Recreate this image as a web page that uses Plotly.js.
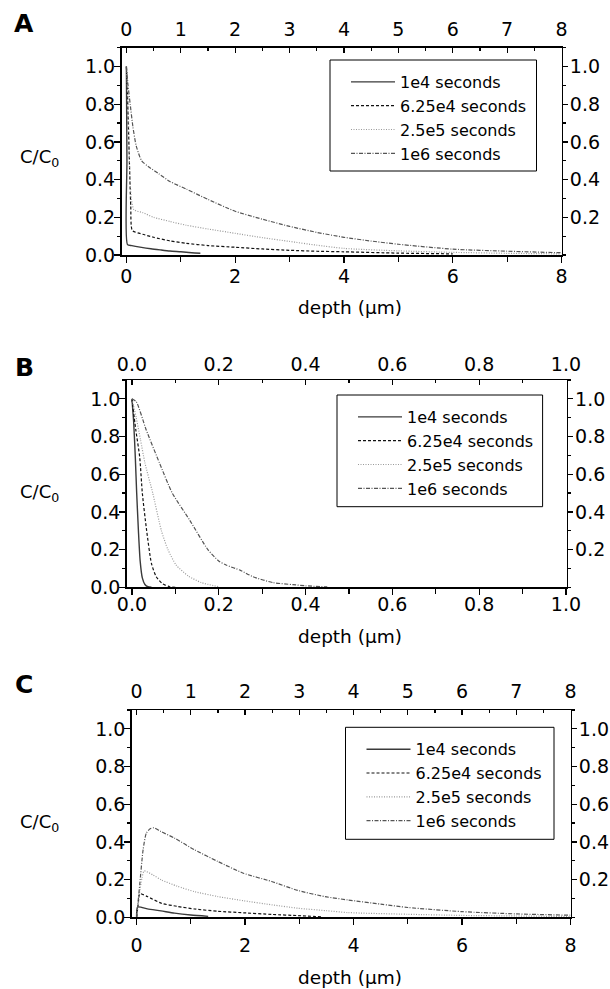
<!DOCTYPE html>
<html>
<head>
<meta charset="utf-8">
<script src="https://cdn.plot.ly/plotly-3.0.1.min.js"></script>
<style>html,body{margin:0;padding:0;background:#fff;}#chart{width:610px;height:989px;}</style>
</head>
<body>
<div id="chart"></div>
<script>
// ---------- data ----------
const seriesNames = ['1e4 seconds', '6.25e4 seconds', '2.5e5 seconds', '1e6 seconds'];
const panelLetters = ['A', 'B', 'C'];
const yTitle = 'C/C<sub>0</sub>';
const xTitle = 'depth (\u03bcm)';

// Panel A
const a1x = [0, 0.01, 0.02, 0.1, 0.25, 0.45, 0.62, 0.8, 1.0, 1.2, 1.36];
const a1y = [1.0, 0.5, 0.055, 0.05, 0.042, 0.033, 0.027, 0.021, 0.017, 0.012, 0.009];
const a2x = [0, 0.02, 0.05, 0.08, 0.11, 0.3, 0.5, 0.8, 1.1, 1.5, 2.0, 2.5, 3.0, 3.5, 4.0, 5.0, 6.0];
const a2y = [1.0, 0.85, 0.55, 0.26, 0.13, 0.11, 0.094, 0.075, 0.062, 0.05, 0.041, 0.032, 0.025, 0.02, 0.017, 0.01, 0.006];
const a3x = [0, 0.02, 0.04, 0.06, 0.09, 0.14, 0.3, 0.5, 0.8, 1.1, 1.5, 2.0, 2.5, 3.0, 3.5, 4.0, 5.0, 6.0, 7.0, 8.0];
const a3y = [1.0, 0.88, 0.7, 0.45, 0.3, 0.24, 0.225, 0.2, 0.178, 0.158, 0.138, 0.115, 0.092, 0.072, 0.052, 0.035, 0.022, 0.014, 0.009, 0.006];
const a4x = [0, 0.03, 0.07, 0.12, 0.18, 0.28, 0.4, 0.6, 0.8, 1.1, 1.5, 2.0, 2.5, 3.0, 3.5, 4.0, 4.5, 5.0, 6.0, 7.0, 8.0];
const a4y = [1.0, 0.9, 0.8, 0.68, 0.58, 0.5, 0.47, 0.43, 0.39, 0.35, 0.295, 0.232, 0.19, 0.152, 0.12, 0.094, 0.074, 0.057, 0.031, 0.02, 0.012];

// Panel B
const b1x = [0, 0.004, 0.008, 0.011, 0.015, 0.019, 0.024, 0.03, 0.037, 0.045];
const b1y = [1.0, 0.88, 0.68, 0.5, 0.3, 0.14, 0.05, 0.015, 0.003, 0];
const b2x = [0, 0.009, 0.018, 0.024, 0.034, 0.045, 0.056, 0.071, 0.087, 0.1];
const b2y = [1.0, 0.835, 0.69, 0.5, 0.3, 0.127, 0.056, 0.018, 0.003, 0];
const b3x = [0, 0.01, 0.02, 0.03, 0.048, 0.068, 0.083, 0.102, 0.13, 0.16, 0.2];
const b3y = [1.0, 0.9, 0.78, 0.66, 0.5, 0.3, 0.2, 0.118, 0.06, 0.025, 0.003];
const b4x = [0, 0.01, 0.033, 0.064, 0.093, 0.133, 0.175, 0.2, 0.217, 0.25, 0.279, 0.325, 0.371, 0.4, 0.45];
const b4y = [1.0, 0.985, 0.835, 0.657, 0.5, 0.357, 0.2, 0.14, 0.118, 0.09, 0.056, 0.025, 0.014, 0.008, 0.002];

// Panel C
const c1x = [0, 0.02, 0.2, 0.45, 0.7, 1.0, 1.32];
const c1y = [0, 0.055, 0.045, 0.034, 0.022, 0.012, 0.005];
const c2x = [0, 0.03, 0.06, 0.2, 0.46, 0.75, 1.07, 1.5, 1.97, 2.5, 2.98, 3.4];
const c2y = [0, 0.07, 0.125, 0.11, 0.074, 0.058, 0.044, 0.032, 0.024, 0.015, 0.009, 0.003];
const c3x = [0, 0.05, 0.1, 0.14, 0.3, 0.46, 0.75, 1.07, 1.5, 1.97, 2.5, 2.98, 3.5, 3.9, 5, 6, 7, 8];
const c3y = [0, 0.12, 0.21, 0.246, 0.225, 0.198, 0.165, 0.136, 0.11, 0.088, 0.066, 0.048, 0.035, 0.025, 0.016, 0.01, 0.007, 0.004];
const c4x = [0, 0.03, 0.06, 0.12, 0.18, 0.25, 0.32, 0.45, 0.7, 1.07, 1.5, 1.97, 2.49, 2.98, 3.47, 3.9, 4.5, 5, 6, 7, 8];
const c4y = [0, 0.09, 0.18, 0.358, 0.447, 0.47, 0.475, 0.455, 0.42, 0.358, 0.296, 0.234, 0.19, 0.142, 0.11, 0.092, 0.07, 0.052, 0.03, 0.018, 0.011];

// ---------- styling ----------
const W = 610, H = 989;
const FONT = 'DejaVu Sans, Liberation Sans, Arial, sans-serif';
const lineStyles = [
  {color: '#3a3a3a', width: 1.4, dash: 'solid'},
  {color: '#111111', width: 1.2, dash: '3px,2px'},
  {color: '#9a9a9a', width: 1.2, dash: '1px,1.5px'},
  {color: '#555555', width: 1.2, dash: '4px,1.5px,1px,1.5px'}
];
// pixel boxes of each panel's plot area [left, right, top, bottom]
const boxes = [[121.5, 561.5, 47.7, 255], [126.7, 566.8, 380, 587.3], [131.7, 570.5, 710, 917.3]];
const xRanges = [[-0.09, 8.0], [-0.012, 1.002], [-0.09, 8.0]];
const legendBoxes = [[330, 536.5, 60, 171], [337, 542.6, 395, 506.7], [345.5, 554, 727.3, 839.3]];
const bottomStandoff = [-2, -7, 4];
const topStandoff = [3, 0, 3];

const panelData = [
  [[a1x, a1y], [a2x, a2y], [a3x, a3y], [a4x, a4y]],
  [[b1x, b1y], [b2x, b2y], [b3x, b3y], [b4x, b4y]],
  [[c1x, c1y], [c2x, c2y], [c3x, c3y], [c4x, c4y]]
];

const traces = [];
const layout = {
  width: W, height: H, autosize: false,
  margin: {l: 0, r: 0, t: 0, b: 0},
  paper_bgcolor: '#ffffff', plot_bgcolor: 'rgba(0,0,0,0)',
  font: {family: FONT, color: '#000', size: 19},
  showlegend: true,
  shapes: [], annotations: []
};

const tickBase = {
  showgrid: false, zeroline: false, showline: true, linecolor: '#000', linewidth: 1.5,
  tickcolor: '#000', tickwidth: 1.2, tickfont: {family: FONT, size: 19, color: '#000'},
  fixedrange: true
};

for (let p = 0; p < 3; p++) {
  const [L, R, T, B] = boxes[p];
  const xb = 2 * p + 1, xt = 2 * p + 2;
  const xbName = xb === 1 ? 'x' : 'x' + xb;
  const ybName = xb === 1 ? 'y' : 'y' + xb;
  const xtName = 'x' + xt, ytName = 'y' + xt;
  const dom = [L / W, R / W];
  const ydom = [1 - B / H, 1 - T / H];
  const isB = p === 1;

  layout[xb === 1 ? 'xaxis' : 'xaxis' + xb] = Object.assign({}, tickBase, {
    domain: dom, anchor: ybName, range: xRanges[p], side: 'bottom',
    tick0: 0, dtick: isB ? 0.2 : 2, tickformat: isB ? '.1f' : 'd',
    ticks: 'outside', ticklen: 6,
    minor: {dtick: isB ? 0.1 : 1, tick0: 0, ticks: 'outside', ticklen: 5, tickwidth: 1.2, tickcolor: '#000', showgrid: false},
    ticklabelstandoff: bottomStandoff[p]
  });
  layout['xaxis' + xt] = Object.assign({}, tickBase, {
    overlaying: xbName, anchor: ybName, range: xRanges[p], side: 'top',
    tick0: 0, dtick: isB ? 0.2 : 1, tickformat: isB ? '.1f' : 'd',
    ticks: 'inside', ticklen: 5,
    minor: {dtick: isB ? 0.1 : 0.5, tick0: 0, ticks: 'inside', ticklen: 3, tickwidth: 1.2, tickcolor: '#000', showgrid: false},
    ticklabelstandoff: topStandoff[p]
  });
  layout[xb === 1 ? 'yaxis' : 'yaxis' + xb] = Object.assign({}, tickBase, {
    domain: ydom, anchor: xbName, range: [0, 1.1], side: 'left',
    tick0: 0, dtick: 0.2, tickformat: '.1f',
    ticks: 'outside', ticklen: 6,
    minor: {dtick: 0.1, tick0: 0, ticks: 'outside', ticklen: 3, tickwidth: 1.2, tickcolor: '#000', showgrid: false},
    ticklabelstandoff: -5
  });
  layout['yaxis' + xt] = Object.assign({}, tickBase, {
    overlaying: ybName, anchor: xbName, range: [0, 1.1], side: 'right',
    tickmode: 'array', tickvals: [0.2, 0.4, 0.6, 0.8, 1.0], ticktext: ['0.2', '0.4', '0.6', '0.8', '1.0'],
    ticks: 'outside', ticklen: 5,
    minor: {dtick: 0.1, tick0: 0, ticks: 'outside', ticklen: 3, tickwidth: 1.2, tickcolor: '#000', showgrid: false},
    ticklabelstandoff: -2
  });

  const legName = p === 0 ? 'legend' : 'legend' + (p + 1);
  panelData[p].forEach((d, i) => {
    traces.push({
      type: 'scatter', mode: 'lines', x: d[0], y: d[1],
      name: seriesNames[i], xaxis: xbName, yaxis: ybName, legend: legName,
      line: Object.assign({shape: 'spline', smoothing: 0.6}, lineStyles[i]),
      hoverinfo: 'skip'
    });
  });
  // invisible companion trace so the top / right mirror axes get drawn
  traces.push({
    type: 'scatter', mode: 'none', x: panelData[p][3][0], y: panelData[p][3][1],
    xaxis: xtName, yaxis: ytName, showlegend: false, hoverinfo: 'skip'
  });

  const [lL, lR, lT, lB] = legendBoxes[p];
  layout[legName] = {
    x: (lL + 16) / W, y: 1 - (lT + 5) / H, xanchor: 'left', yanchor: 'top',
    bgcolor: 'rgba(0,0,0,0)', borderwidth: 0, itemwidth: 44,
    font: {family: FONT, size: 16, color: '#000'}, tracegroupgap: 0
  };
  layout.shapes.push({
    type: 'rect', xref: 'paper', yref: 'paper', layer: 'above',
    x0: lL / W, x1: lR / W, y0: 1 - lB / H, y1: 1 - lT / H,
    line: {color: '#000', width: 1}, fillcolor: 'rgba(0,0,0,0)'
  });

  const letterY = [23, 367, 684][p];
  layout.annotations.push({
    xref: 'paper', yref: 'paper', x: 24 / W, y: 1 - letterY / H, xanchor: 'center', yanchor: 'middle',
    text: '<b>' + panelLetters[p] + '</b>', showarrow: false, font: {family: FONT, size: 25, color: '#000'}
  });
  const yTitleY = [158, 493, 823][p];
  layout.annotations.push({
    xref: 'paper', yref: 'paper', x: 39 / W, y: 1 - yTitleY / H, xanchor: 'center', yanchor: 'middle',
    text: yTitle, showarrow: false, font: {family: FONT, size: 18, color: '#000'}
  });
  const xTitleY = [307, 636, 977][p];
  layout.annotations.push({
    xref: 'paper', yref: 'paper', x: 350 / W, y: 1 - xTitleY / H, xanchor: 'center', yanchor: 'middle',
    text: xTitle, showarrow: false, font: {family: FONT, size: 18.5, color: '#000'}
  });
}

Plotly.newPlot('chart', traces, layout, {displayModeBar: false, staticPlot: true});
</script>
</body>
</html>
